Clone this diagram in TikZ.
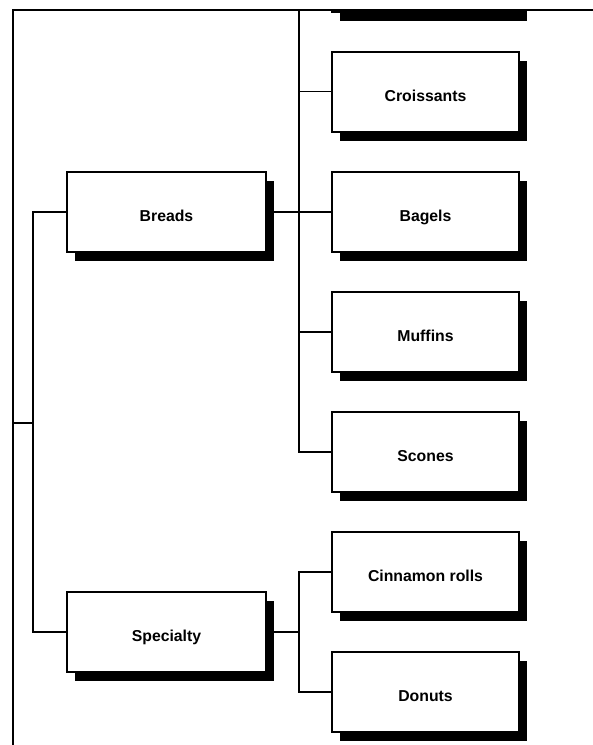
\documentclass[tikz,border=0pt]{standalone}
\usepackage{fontspec}
\setmainfont{Liberation Sans}
\usetikzlibrary{shadows}
\tikzset{
  item/.style={draw,line width=2pt,fill=white,inner sep=0pt,
    minimum width=187pt,minimum height=80pt,
    text height=19pt,text depth=0pt,
    font=\bfseries\fontsize{15.8}{18}\selectfont,
    drop shadow={shadow xshift=8pt,shadow yshift=-9pt,fill=black,opacity=1}},
  group/.style={item,minimum width=199pt},
  link/.style={line width=1.6pt}
}
\begin{document}
\begin{tikzpicture}[x=1pt,y=-1pt]
      \useasboundingbox (0,0) rectangle (593,745);
      \begin{scope}
      \clip (13,11) rectangle (593,745);
      \node[item] (top) at (425.5,-28.5) {};
      \node[item] (croissants) at (425.5,91.5) {Croissants};
      \node[item] (bagels) at (425.5,212) {Bagels};
      \node[item] (muffins) at (425.5,332) {Muffins};
      \node[item] (scones) at (425.5,452) {Scones};
      \node[item] (cinnamon) at (425.5,572) {Cinnamon rolls};
      \node[item] (donuts) at (425.5,692) {Donuts};
      \node[group] (breads) at (166.5,212) {Breads};
      \node[group] (specialty) at (166.5,632) {Specialty};
      \coordinate (root) at (13,423);
      \coordinate (rj) at (33,423);
      \coordinate (bj) at (299,212);
      \coordinate (sj) at (299,632);
      \draw[link] (root) -- (rj);
      \draw[link] (rj) |- (breads.west);
      \draw[link] (rj) |- (specialty.west);
      \draw[link] (breads.east) -- (bagels.west);
      \foreach \n in {top,croissants,muffins,scones}
        \draw[link] (bj) |- (\n.west);
      \draw[link] (specialty.east) -- (sj);
      \draw[link] (sj) |- (cinnamon.west);
      \draw[link] (sj) |- (donuts.west);
      \end{scope}
      \draw[line width=2.2pt] (13,745) -- (13,10) -- (593,10);
    \end{tikzpicture}
\end{document}
